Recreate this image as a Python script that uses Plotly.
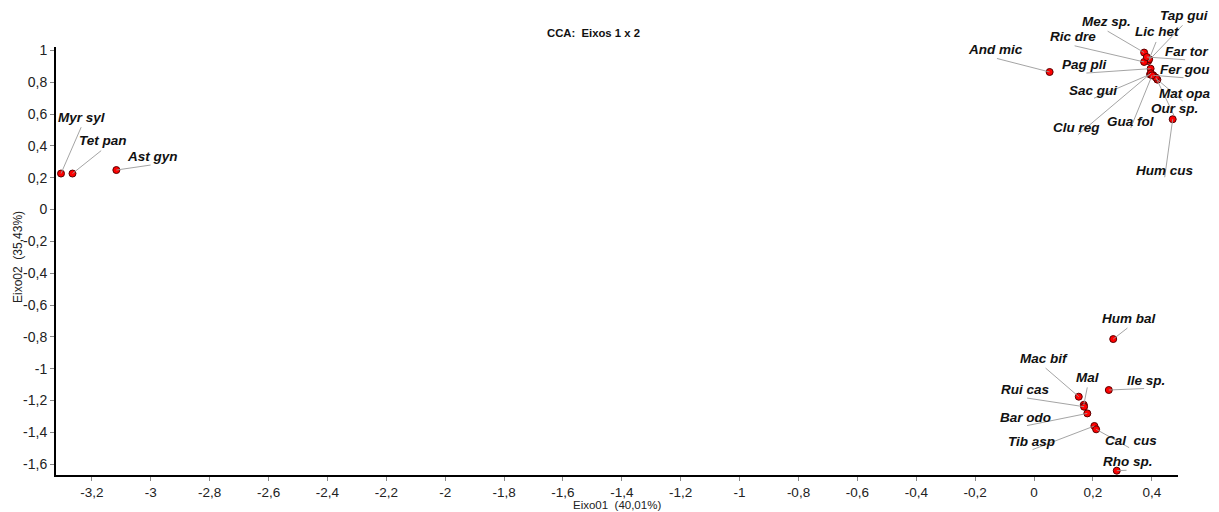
import plotly.graph_objects as go

# ---------------- data ----------------
species = ["Myr syl", "Tet pan", "Ast gyn",
           "And mic", "Mez sp.", "Tap gui", "Lic het", "Ric dre", "Far tor",
           "Pag pli", "Fer gou", "Sac gui", "Mat opa", "Our sp.", "Clu reg",
           "Gua fol", "Hum cus",
           "Hum bal", "Mac bif", "Mal", "Ile sp.", "Rui cas", "Bar odo",
           "Tib asp", "Cal  cus", "Rho sp."]
eixo1 = [-3.305, -3.266, -3.117,
         0.053, 0.374, 0.388, 0.391, 0.374, 0.383,
         0.396, 0.405, 0.394, 0.419, 0.414, 0.397,
         0.401, 0.471,
         0.269, 0.152, 0.169, 0.254, 0.170, 0.181,
         0.205, 0.211, 0.281]
eixo2 = [0.226, 0.226, 0.248,
         0.864, 0.986, 0.933, 0.944, 0.927, 0.958,
         0.885, 0.843, 0.849, 0.816, 0.829, 0.856,
         0.843, 0.567,
         -0.814, -1.176, -1.227, -1.134, -1.239, -1.281,
         -1.360, -1.381, -1.641]

x_ticks = [-3.2, -3.0, -2.8, -2.6, -2.4, -2.2, -2.0, -1.8, -1.6, -1.4, -1.2,
           -1.0, -0.8, -0.6, -0.4, -0.2, 0.0, 0.2, 0.4]
x_tick_text = ["-3,2", "-3", "-2,8", "-2,6", "-2,4", "-2,2", "-2", "-1,8", "-1,6",
               "-1,4", "-1,2", "-1", "-0,8", "-0,6", "-0,4", "-0,2", "0", "0,2", "0,4"]
y_ticks = [1.0, 0.8, 0.6, 0.4, 0.2, 0.0, -0.2, -0.4, -0.6, -0.8, -1.0, -1.2, -1.4, -1.6]
y_tick_text = ["1", "0,8", "0,6", "0,4", "0,2", "0", "-0,2", "-0,4", "-0,6", "-0,8",
               "-1", "-1,2", "-1,4", "-1,6"]

title_text = "CCA:\u00a0 Eixos 1 x 2"
x_title = "Eixo01\u00a0 (40,01%)"
y_title = "Eixo02\u00a0 (35,43%)"

# ---------------- layout constants ----------------
PAGE = 8                      # default body margin of the html page
W, H = 1219 - PAGE, 512 - PAGE
ML, MR, MT, MB = 56 - PAGE, 41, 47 - PAGE, 37
X_RANGE = [-3.322, 0.489]
Y_RANGE = [-1.668, 1.021]
plot_w = W - ML - MR
plot_h = H - MT - MB


def paper_x(screen_x):
    return (screen_x - PAGE - ML) / plot_w


def paper_y(screen_y):
    return (H - MB - (screen_y - PAGE)) / plot_h


# label offsets in screen pixels (dx right, dy down) from each point
label_offsets = {
    "Myr syl": (20.8, -56.3), "Tet pan": (30.2, -32.6), "Ast gyn": (35.7, -13.7),
    "And mic": (-54.2, -22.4), "Mez sp.": (-38, -30.8), "Tap gui": (35.7, -45.7),
    "Lic het": (7.5, -27.3), "Ric dre": (-71, -25), "Far tor": (39.8, -5.7),
    "Pag pli": (-65.7, -4), "Fer gou": (31.7, -6), "Sac gui": (-57.5, 16),
    "Mat opa": (26.7, 14), "Our sp.": (19, 31.4), "Clu reg": (-74.5, 54.3),
    "Gua fol": (-22, 45.7), "Hum cus": (-8.2, 51),
    "Hum bal": (15.7, -20.7), "Mac bif": (-34.7, -38.4), "Mal": (3.8, -27.4),
    "Ile sp.": (36.8, -10), "Rui cas": (-58.5, -17.4), "Bar odo": (-61.8, 4),
    "Tib asp": (-63.3, 15.7), "Cal  cus": (34.5, 10.7), "Rho sp.": (11.3, -9),
}
LINE_DROP = 8.5  # leader line starts this many px below label centre

FONT = "Liberation Sans, Arial, sans-serif"

annotations = []
# leader lines (drawn first, under the text)
for name, x, y in zip(species, eixo1, eixo2):
    dx, dy = label_offsets[name]
    annotations.append(dict(x=x, y=y, xref="x", yref="y", text="",
                            showarrow=True, arrowhead=0, arrowwidth=0.9,
                            arrowcolor="#9a9a9a", standoff=0, startstandoff=0,
                            ax=dx, ay=dy + LINE_DROP, axref="pixel", ayref="pixel"))
# species labels
for name, x, y in zip(species, eixo1, eixo2):
    dx, dy = label_offsets[name]
    annotations.append(dict(x=x, y=y, xref="x", yref="y",
                            text="<b><i>%s</i></b>" % name.replace("  ", "\u00a0 "),
                            showarrow=False, xanchor="center", yanchor="middle",
                            xshift=dx, yshift=-dy,
                            font=dict(family=FONT, size=13.5, color="#111111")))

annotations.append(dict(x=paper_x(593), y=paper_y(33.3), xref="paper", yref="paper",
                        text="<b>%s</b>" % title_text, showarrow=False,
                        xanchor="center", yanchor="middle",
                        font=dict(family=FONT, size=11.3, color="#111111")))
annotations.append(dict(x=paper_x(616.7), y=paper_y(505.5), xref="paper", yref="paper",
                        text=x_title, showarrow=False, xanchor="center", yanchor="middle",
                        font=dict(family=FONT, size=11.5, color="#222222")))
annotations.append(dict(x=paper_x(18), y=paper_y(257), xref="paper", yref="paper",
                        text=y_title, showarrow=False, xanchor="center", yanchor="middle",
                        textangle=-90,
                        font=dict(family=FONT, size=12, color="#222222")))

fig = go.Figure()
fig.add_trace(go.Scatter(x=eixo1, y=eixo2, mode="markers", text=species,
                         marker=dict(size=7, color="#ff0000",
                                     line=dict(color="#5a0000", width=1)),
                         showlegend=False, cliponaxis=False))

fig.update_layout(
    width=W, height=H,
    margin=dict(l=ML, r=MR, t=MT, b=MB, pad=0),
    paper_bgcolor="white", plot_bgcolor="white",
    annotations=annotations,
    xaxis=dict(range=X_RANGE, tickvals=x_ticks, ticktext=x_tick_text,
               showgrid=False, zeroline=False, showline=True, linecolor="black",
               linewidth=2, ticks="outside", ticklen=4, tickcolor="#888888",
               tickfont=dict(family=FONT, size=13.5, color="#222222")),
    yaxis=dict(range=Y_RANGE, tickvals=y_ticks, ticktext=y_tick_text,
               showgrid=False, zeroline=False, showline=True, linecolor="black",
               linewidth=2, ticks="outside", ticklen=4, tickcolor="#888888",
               tickfont=dict(family=FONT, size=14, color="#222222")),
)

fig.write_html("out.html")
